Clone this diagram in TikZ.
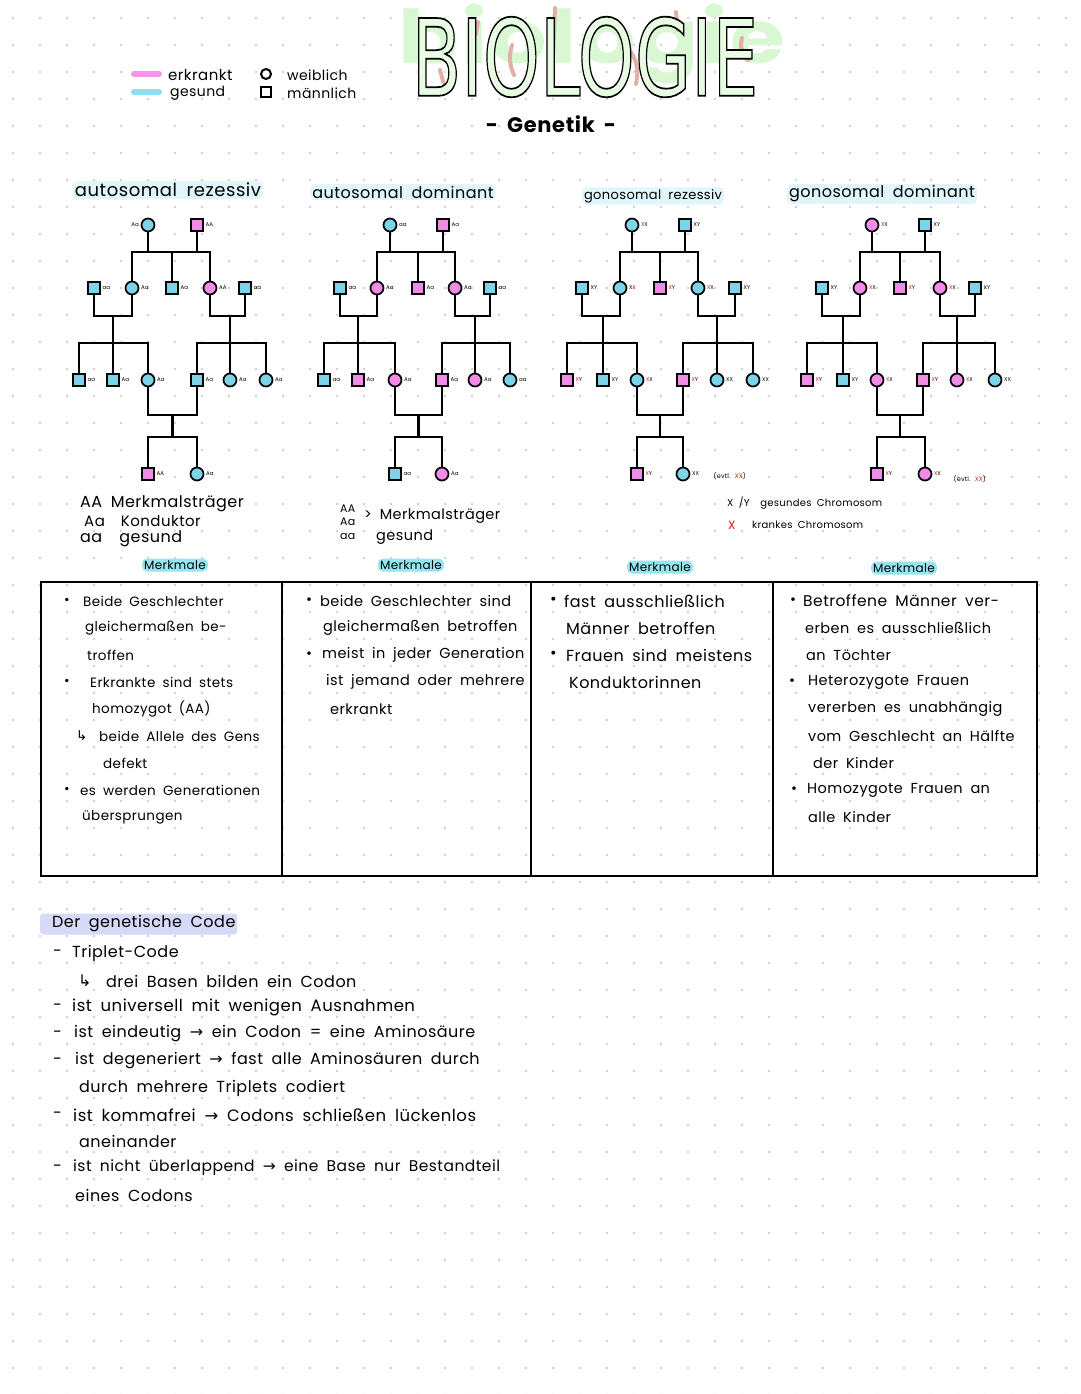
\documentclass[tikz,border=0pt]{standalone}
\usepackage{fontspec}
\setmainfont{Poppins}[WordSpace=1.8,LetterSpace=3]
\newfontfamily\symf{DejaVu Sans}
\newfontfamily\titf{DejaVu Sans}
\usetikzlibrary{calc}
\definecolor{pk}{RGB}{240,140,232}
\definecolor{cy}{RGB}{125,212,232}
\definecolor{pkbar}{RGB}{242,150,236}
\definecolor{cybar}{RGB}{140,222,240}
\definecolor{dotc}{RGB}{208,208,208}
\definecolor{redX}{RGB}{215,30,30}
\definecolor{glow}{RGB}{224,246,250}
\definecolor{mglow}{RGB}{150,230,240}
\definecolor{lav}{RGB}{214,218,246}
\definecolor{grn}{RGB}{218,247,212}
\definecolor{grnfill}{RGB}{232,252,228}
\definecolor{pstroke}{RGB}{226,176,166}
\newcommand{\rx}{\textcolor{redX}{X}}
\newcommand{\pedF}[5]{\node[fsym,#4,label={[plab]right:#5}] (#1) at (#2,#3) {};}
\newcommand{\pedM}[5]{\node[msym,#4,label={[plab]right:#5}] (#1) at (#2,#3) {};}
\newcommand{\pedlines}[1]{%
 \draw[pl] (#1a) -- (#1a |- yA);
 \draw[pl] (#1b) -- (#1b |- yA);
 \draw[pl] (#1d) -- (#1d |- yA) -- (#1f |- yA) -- (#1f);
 \draw[pl] (#1e |- yA) -- (#1e);
 \draw[pl] (#1c) -- (#1c |- yB) -- (#1d |- yB) -- (#1d);
 \draw[pl] (#1i |- yB) -- (#1i |- yC);
 \draw[pl] (#1h) -- (#1h |- yC) -- (#1j |- yC) -- (#1j);
 \draw[pl] (#1i |- yC) -- (#1i);
 \draw[pl] (#1f) -- (#1f |- yB) -- (#1g |- yB) -- (#1g);
 \draw[pl] (#1l |- yB) -- (#1l |- yC);
 \draw[pl] (#1k) -- (#1k |- yC) -- (#1m |- yC) -- (#1m);
 \draw[pl] (#1l |- yC) -- (#1l);
 \draw[pl] (#1j) -- (#1j |- yD) -- (#1k |- yD) -- (#1k);
 \draw[pl] ($(#1j |- yD)!0.5!(#1k |- yD)$) -- ($(#1j |- yE)!0.5!(#1k |- yE)$);
 \draw[pl] (#1n) -- (#1n |- yE) -- (#1o |- yE) -- (#1o);
}
\begin{document}
\begin{tikzpicture}[x=1pt,y=-1pt,
  fsym/.style={circle,draw,line width=1.7,minimum size=13,inner sep=0},
  msym/.style={rectangle,draw,line width=1.7,minimum size=12,inner sep=0},
  af/.style={fill=pk}, hl/.style={fill=cy},
  plab/.style={font=\fontsize{5.5}{6}\selectfont,inner sep=1.5},
  pl/.style={line width=2.6},
  tx/.style={anchor=west,inner sep=0,font=\fontsize{14.5}{16}\selectfont},
  ta/.style={anchor=west,inner sep=0,font=\fontsize{13.5}{16}\selectfont},
  tb/.style={anchor=west,inner sep=0,font=\fontsize{16}{18}\selectfont},
  lg/.style={anchor=west,inner sep=0,font=\fontsize{14}{15}\selectfont},
  hd/.style={inner sep=2,fill=glow,rounded corners=5},
  mk/.style={inner sep=2,fill=mglow,rounded corners=5,font=\fontsize{12}{14}\selectfont},
  cell/.style={draw,line width=1.8,inner sep=0,anchor=north west,minimum height=294}]
\useasboundingbox (0,0) rectangle (1080,1394);
\fill[white] (0,0) rectangle (1080,1394);
\foreach \i in {0,...,39}{\foreach \j in {0,...,51}{\fill[dotc] (13+27*\i,18+27*\j) circle (1.3);}}
% legend
\draw[pkbar,line width=6,line cap=round] (134,74) -- (159,74);
\draw[cybar,line width=6,line cap=round] (134,92) -- (159,92);
\node[lg,font=\fontsize{15}{16}\selectfont] (lg1) at (168,75) {erkrankt};
\node[lg] (lg2) at (170,93) {gesund};
\node[circle,draw,line width=2,minimum size=10,inner sep=0] (lg3) at (266,74) {};
\node[rectangle,draw,line width=2,minimum size=10,inner sep=0] (lg4) at (266,92) {};
\node[lg] (lg5) at (287,75) {weiblich};
\node[lg] (lg6) at (287,93) {männlich};
% title
\node[inner sep=0,text=grn,font=\fontsize{78}{78}\selectfont\bfseries] (bgw) at (592,44) {\scalebox{1.14}[0.95]{biologie}};
\draw[pstroke,line width=4,line cap=round] (440,70) -- (446,92);
\draw[pstroke,line width=4,line cap=round] (478,22) -- (476,34);
\draw[pstroke,line width=4,line cap=round] (512,45) to[bend right=20] (514,75);
\draw[pstroke,line width=4,line cap=round] (555,8) -- (552,86);
\draw[pstroke,line width=4,line cap=round] (628,48) to[bend left=25] (636,84);
\draw[pstroke,line width=4,line cap=round] (676,12) -- (678,30);
\draw[pstroke,line width=4,line cap=round] (742,38) to[bend right=30] (748,60);
\node[inner sep=0,text=grnfill] (title) at (585,57) {\scalebox{1.17}[1.72]{\titf\fontsize{62}{62}\selectfont\special{pdf:literal direct 0 0 0 RG 2 Tr 1 w}BIOLOGIE\special{pdf:literal direct 0 Tr}}};
\node[font=\fontsize{21}{24}\selectfont\bfseries,inner sep=0] (subt) at (551,124) {- Genetik -};
% headings
\node[hd,font=\fontsize{18}{20}\selectfont] (h1) at (168,190) {autosomal rezessiv};
\node[hd,font=\fontsize{16}{18}\selectfont] (h2) at (403,192) {autosomal dominant};
\node[hd,font=\fontsize{13}{15}\selectfont] (h3) at (653,196) {gonosomal rezessiv};
\node[hd,font=\fontsize{16}{18}\selectfont] (h4) at (882,194) {gonosomal dominant};
% level coordinates
\coordinate (yA) at (0,252);
\coordinate (yB) at (0,316);
\coordinate (yC) at (0,343);
\coordinate (yD) at (0,415);
\coordinate (yE) at (0,437);
% pedigree 1
\node[fsym,hl,label={[plab]left:Aa}] (P1a) at (148,225) {};
\pedM{P1b}{197}{225}{af}{AA}
\pedM{P1c}{94}{288}{hl}{aa}
\pedF{P1d}{132}{288}{hl}{Aa}
\pedM{P1e}{172}{288}{hl}{Aa}
\pedF{P1f}{210}{288}{af}{AA}
\pedM{P1g}{245}{288}{hl}{aa}
\pedM{P1h}{79}{380}{hl}{aa}
\pedM{P1i}{113}{380}{hl}{Aa}
\pedF{P1j}{148}{380}{hl}{Aa}
\pedM{P1k}{197}{380}{hl}{Aa}
\pedF{P1l}{230}{380}{hl}{Aa}
\pedF{P1m}{266}{380}{hl}{Aa}
\pedM{P1n}{148}{474}{af}{AA}
\pedF{P1o}{197}{474}{hl}{Aa}
\pedlines{P1}
% pedigree 2
\pedF{P2a}{390}{225}{hl}{aa}
\pedM{P2b}{443}{225}{af}{Aa}
\pedM{P2c}{340}{288}{hl}{aa}
\pedF{P2d}{377}{288}{af}{Aa}
\pedM{P2e}{418}{288}{af}{Aa}
\pedF{P2f}{455}{288}{af}{Aa}
\pedM{P2g}{490}{288}{hl}{aa}
\pedM{P2h}{324}{380}{hl}{aa}
\pedM{P2i}{358}{380}{af}{Aa}
\pedF{P2j}{395}{380}{af}{Aa}
\pedM{P2k}{442}{380}{af}{Aa}
\pedF{P2l}{475}{380}{af}{Aa}
\pedF{P2m}{510}{380}{hl}{aa}
\pedM{P2n}{395}{474}{hl}{aa}
\pedF{P2o}{442}{474}{af}{Aa}
\pedlines{P2}
% pedigree 3
\pedF{P3a}{632}{225}{hl}{\rx X}
\pedM{P3b}{685}{225}{hl}{XY}
\pedM{P3c}{582}{288}{hl}{XY}
\pedF{P3d}{620}{288}{hl}{X\rx}
\pedM{P3e}{660}{288}{af}{\rx Y}
\pedF{P3f}{698}{288}{hl}{\rx X}
\pedM{P3g}{735}{288}{hl}{XY}
\pedM{P3h}{567}{380}{af}{\rx Y}
\pedM{P3i}{603}{380}{hl}{XY}
\pedF{P3j}{637}{380}{hl}{\rx X}
\pedM{P3k}{683}{380}{af}{\rx Y}
\pedF{P3l}{717}{380}{hl}{XX}
\pedF{P3m}{753}{380}{hl}{XX}
\pedM{P3n}{637}{474}{af}{\rx Y}
\pedF{P3o}{683}{474}{hl}{XX}
\node[plab,anchor=west,font=\fontsize{6.5}{7}\selectfont] (ev3) at (712,476) {(evtl. \rx\rx)};
\pedlines{P3}
% pedigree 4
\pedF{P4a}{872}{225}{af}{\rx X}
\pedM{P4b}{925}{225}{hl}{XY}
\pedM{P4c}{822}{288}{hl}{XY}
\pedF{P4d}{860}{288}{af}{\rx X}
\pedM{P4e}{900}{288}{af}{\rx Y}
\pedF{P4f}{940}{288}{af}{\rx X}
\pedM{P4g}{975}{288}{hl}{XY}
\pedM{P4h}{807}{380}{af}{\rx Y}
\pedM{P4i}{843}{380}{hl}{XY}
\pedF{P4j}{877}{380}{af}{\rx X}
\pedM{P4k}{923}{380}{af}{\rx Y}
\pedF{P4l}{957}{380}{af}{\rx X}
\pedF{P4m}{995}{380}{hl}{XX}
\pedM{P4n}{877}{474}{af}{\rx Y}
\pedF{P4o}{925}{474}{af}{\rx X}
\node[plab,anchor=west,font=\fontsize{6.5}{7}\selectfont] (ev4) at (952,479) {(evtl. \rx\rx)};
\pedlines{P4}
% keys below pedigrees
\node[tx,font=\fontsize{16}{18}\selectfont] (k1) at (80,504) {AA Merkmalsträger};
\node[tx,font=\fontsize{15}{18}\selectfont] (k2) at (84,521) {Aa\ \ Konduktor};
\node[tx,font=\fontsize{16}{18}\selectfont] (k3) at (80,539) {aa\ \ gesund};
\node[tx,font=\fontsize{11}{12}\selectfont] (k4) at (340,509) {AA};
\node[tx,font=\fontsize{11}{12}\selectfont] (k5) at (340,522) {Aa};
\node[tx,font=\fontsize{11}{12}\selectfont] (k6) at (340,536) {aa};
\node[tx] (k7) at (364,516) {> Merkmalsträger};
\node[tx] (k8) at (376,537) {gesund};
\node[tx,font=\fontsize{10}{12}\selectfont] (k9) at (727,503) {X /Y\ \ gesundes Chromosom};
\node[tx,font=\fontsize{12}{12}\selectfont,text=redX] (k10) at (728,525) {X};
\node[tx,font=\fontsize{10}{12}\selectfont] (k11) at (752,525) {krankes Chromosom};
\node[mk] (mk1) at (175,565) {Merkmale};
\node[mk] (mk2) at (411,565) {Merkmale};
\node[mk] (mk3) at (660,567) {Merkmale};
\node[mk] (mk4) at (904,568) {Merkmale};
% table
\node[cell,minimum width=241] (tb1) at (40,581) {};
\node[cell,minimum width=249] (tb2) at (281,581) {};
\node[cell,minimum width=242] (tb3) at (530,581) {};
\node[cell,minimum width=264] (tb4) at (772,581) {};
% column 1
\node[ta] (a0) at (64,601) {•};
\node[ta] (a1) at (83,601) {Beide Geschlechter};
\node[ta] (a2) at (85,628) {gleichermaßen be-};
\node[ta] (a3) at (87,655) {troffen};
\node[ta] (a4) at (64,682) {•};
\node[ta] (a5) at (90,682) {Erkrankte sind stets};
\node[ta] (a6) at (92,709) {homozygot (AA)};
\node[ta] (a7) at (76,736) {\symf ↳};
\node[ta] (a8) at (99,736) {beide Allele des Gens};
\node[ta] (a9) at (103,763) {defekt};
\node[ta] (a10) at (64,790) {•};
\node[ta] (a11) at (80,790) {es werden Generationen};
\node[ta] (a12) at (82,817) {übersprungen};
% column 2
\node[tx] (b0) at (306,601) {•};
\node[tx] (b1) at (320,601) {beide Geschlechter sind};
\node[tx] (b2) at (323,628) {gleichermaßen betroffen};
\node[tx] (b3) at (306,655) {•};
\node[tx] (b4) at (322,655) {meist in jeder Generation};
\node[tx] (b5) at (326,682) {ist jemand oder mehrere};
\node[tx] (b6) at (330,709) {erkrankt};
% column 3
\node[tx,font=\fontsize{16}{18}\selectfont] (c0) at (550,601) {•};
\node[tx,font=\fontsize{16}{18}\selectfont] (c1) at (564,601) {fast ausschließlich};
\node[tx,font=\fontsize{16}{18}\selectfont] (c2) at (566,628) {Männer betroffen};
\node[tx,font=\fontsize{16}{18}\selectfont] (c3) at (550,655) {•};
\node[tx,font=\fontsize{16}{18}\selectfont] (c4) at (566,655) {Frauen sind meistens};
\node[tx,font=\fontsize{16}{18}\selectfont] (c5) at (569,682) {Konduktorinnen};
% column 4
\node[tx] (d0) at (790,601) {•};
\node[tx,font=\fontsize{15.5}{18}\selectfont] (d1) at (803,601) {Betroffene Männer ver-};
\node[tx] (d2) at (805,628) {erben es ausschließlich};
\node[tx] (d3) at (806,655) {an Töchter};
\node[tx] (d4) at (789,682) {•};
\node[tx] (d5) at (808,682) {Heterozygote Frauen};
\node[tx] (d6) at (808,709) {vererben es unabhängig};
\node[tx] (d7) at (808,736) {vom Geschlecht an Hälfte};
\node[tx] (d8) at (813,763) {der Kinder};
\node[tx] (d9) at (791,790) {•};
\node[tx] (d10) at (807,790) {Homozygote Frauen an};
\node[tx] (d11) at (808,817) {alle Kinder};
% genetic code
\node[anchor=west,fill=lav,inner sep=0,minimum width=197,minimum height=21,rounded corners=3] (gc0) at (40,924) {};
\node[tb] (gc1) at (52,924) {Der genetische Code};
\node[tb] (e0) at (53,953) {-};
\node[tb] (e1) at (72,953) {Triplet-Code};
\node[tb] (e2) at (78,981) {\symf ↳};
\node[tb] (e3) at (106,981) {drei Basen bilden ein Codon};
\node[tb] (e4) at (53,1007) {-};
\node[tb,font=\fontsize{16.5}{18}\selectfont] (e5) at (72,1007) {ist universell mit wenigen Ausnahmen};
\node[tb] (e6) at (53,1034) {-};
\node[tb] (e7) at (74,1034) {ist eindeutig {\symf →} ein Codon = eine Aminosäure};
\node[tb] (e8) at (53,1061) {-};
\node[tb] (e9) at (75,1061) {ist degeneriert {\symf →} fast alle Aminosäuren durch};
\node[tb] (e10) at (79,1088) {durch mehrere Triplets codiert};
\node[tb] (e11) at (53,1115) {-};
\node[tb,font=\fontsize{16.5}{18}\selectfont] (e12) at (73,1115) {ist kommafrei {\symf →} Codons schließen lückenlos};
\node[tb] (e13) at (79,1141) {aneinander};
\node[tb] (e14) at (53,1168) {-};
\node[tb,font=\fontsize{15.5}{18}\selectfont] (e15) at (73,1168) {ist nicht überlappend {\symf →} eine Base nur Bestandteil};
\node[tb] (e16) at (75,1195) {eines Codons};
\end{tikzpicture}
\end{document}
